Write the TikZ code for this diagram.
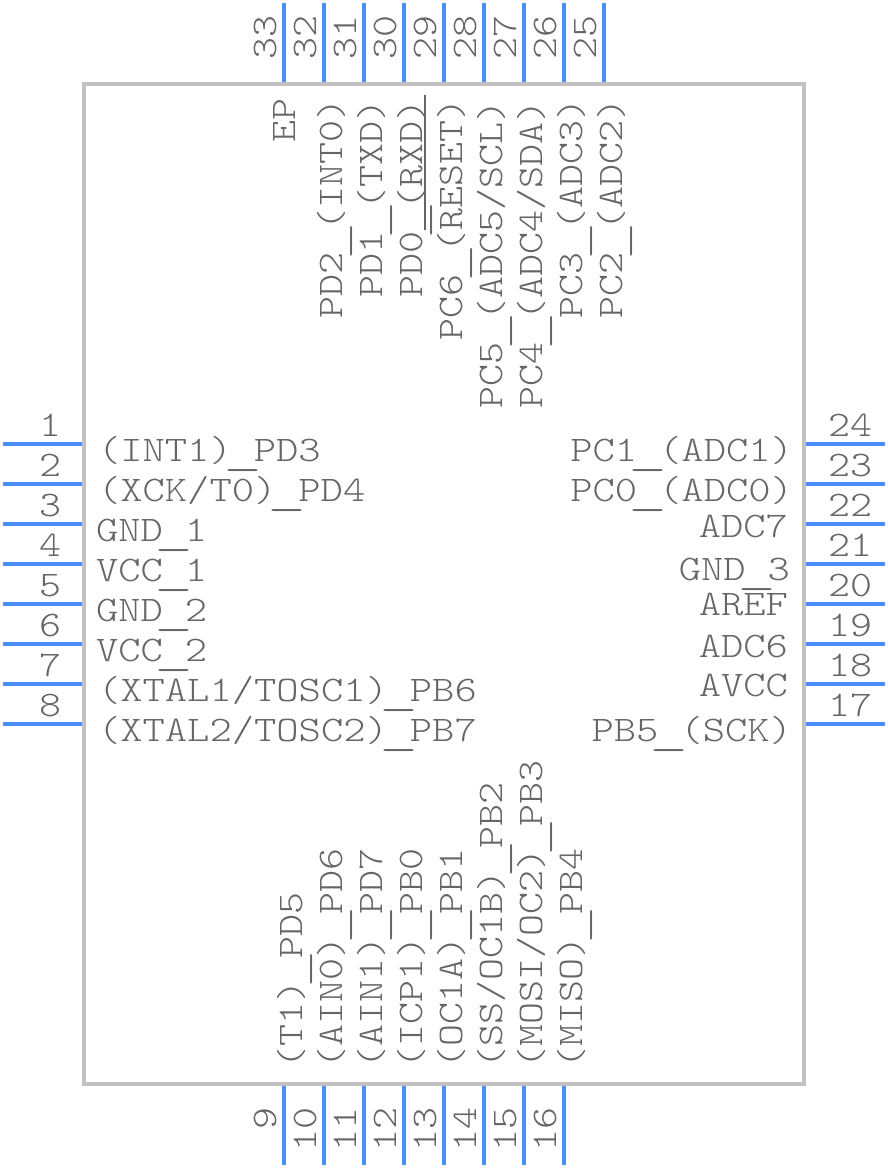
\documentclass[tikz,border=0pt]{standalone}
\usepackage{fontspec}
\usepackage{graphicx}
\newfontfamily\pinfont{Latin Modern Mono Light}[FakeStretch=1.164]
\newfontfamily\pinfontwide{Latin Modern Mono Light}[FakeStretch=1.18]
\definecolor{txtgrey}{HTML}{666666}
\definecolor{boxgrey}{HTML}{C0C0C0}
\definecolor{pinblue}{HTML}{4A90F7}
\newcommand\ovl[1]{\leavevmode\setbox0\hbox{#1}\rlap{\rule[36pt]{\dimexpr\wd0+3pt\relax}{1.6pt}}\box0}
\newcommand\us{\makebox[22pt][c]{\raisebox{-3.8pt}[0pt][0pt]{\scalebox{1.75}[1.1]{\_}}}}
\tikzset{
  lbl/.style={inner sep=0pt, outer sep=0pt, text=txtgrey, font=\pinfont\fontsize{36}{36}\selectfont},
  lh/.style={lbl, font=\pinfontwide\fontsize{36}{36}\selectfont},
  lw/.style={lh, anchor=base west},
  le/.style={lh, anchor=base east},
  lv/.style={lbl, anchor=base west, rotate=90},
  lve/.style={lbl, anchor=base east, rotate=90},
  pinline/.style={draw=pinblue, line width=4pt},
  bodybox/.style={draw=boxgrey, line width=4pt, fill=none, minimum width=720pt, minimum height=1000pt, inner sep=0pt, outer sep=0pt}
}
\begin{document}
\begin{tikzpicture}[x=1pt,y=-1pt]
\useasboundingbox (0,0) rectangle (888,1168);
\node[bodybox] (body) at (444,584) {};
% left and right pins
\foreach \n/\m [count=\i from 0] in {1/24,2/23,3/22,4/21,5/20,6/19,7/18,8/17}{
  \pgfmathsetmacro\yy{444+40*\i}
  \coordinate (p\n a) at (3,\yy);
  \coordinate (p\n b) at (82,\yy);
  \draw[pinline] (p\n a) -- (p\n b);
  \node[lbl, anchor=base] (n\n) at (50,\yy-8) {\n};
  \coordinate (p\m a) at (806,\yy);
  \coordinate (p\m b) at (885,\yy);
  \draw[pinline] (p\m a) -- (p\m b);
  \node[lbl, anchor=base] (n\m) at (850,\yy-8) {\m};
}
% top pins
\foreach \n [count=\i from 0] in {33,32,31,30,29,28,27,26,25}{
  \pgfmathsetmacro\xx{284+40*\i}
  \coordinate (p\n a) at (\xx,3);
  \coordinate (p\n b) at (\xx,82);
  \draw[pinline] (p\n a) -- (p\n b);
  \node[lv] (n\n) at (\xx-8,59) {\n};
}
% bottom pins
\foreach \n [count=\i from 0] in {9,10,11,12,13,14,15,16}{
  \pgfmathsetmacro\xx{284+40*\i}
  \coordinate (p\n a) at (\xx,1086);
  \coordinate (p\n b) at (\xx,1165);
  \draw[pinline] (p\n a) -- (p\n b);
  \node[lve] (n\n) at (\xx-8,1107) {\n};
}
% left labels
\node[lw] (lA) at (98,461) {(INT1)\us PD3};
\node[lw] (lB) at (98,501) {(XCK/T0)\us PD4};
\node[lw] (lC) at (96,541) {GND\us 1};
\node[lw] (lD) at (96,581) {VCC\us 1};
\node[lw] (lE) at (96,621) {GND\us 2};
\node[lw] (lF) at (96,661) {VCC\us 2};
\node[lw] (lG) at (98,701) {(XTAL1/TOSC1)\us PB6};
\node[lw] (lH) at (98,741) {(XTAL2/TOSC2)\us PB7};
% right labels
\node[le] (rA) at (793,461) {PC1\us(ADC1)};
\node[le] (rB) at (793,501) {PC0\us(ADC0)};
\node[le] (rC) at (788,537) {ADC7};
\node[le] (rD) at (790,580) {GND\us 3};
\node[le] (rE) at (788,615) {AREF};
\node[le] (rF) at (788,657) {ADC6};
\node[le] (rG) at (788,696) {AVCC};
\node[le] (rH) at (792,741) {PB5\us(SCK)};
% top labels
\node[lv] (tA) at (295,142) {EP};
\node[lv] (tB) at (342,318) {PD2\us(INT0)};
\node[lv] (tC) at (382,297) {PD1\us(TXD)};
\node[lv] (tD) at (422,297) {PD0\us(RXD)};
\node[lv] (tE) at (462,340) {PC6\us(\ovl{RESET)}};
\node[lv] (tF) at (502,408) {PC5\us(ADC5/SCL)};
\node[lv] (tG) at (542,408) {PC4\us(ADC4/SDA)};
\node[lv] (tH) at (582,318) {PC3\us(ADC3)};
\node[lv] (tI) at (622,318) {PC2\us(ADC2)};
% bottom labels
\node[lv] (bA) at (302,1068) {(T1)\us PD5};
\node[lv] (bB) at (342,1068) {(AIN0)\us PD6};
\node[lv] (bC) at (382,1068) {(AIN1)\us PD7};
\node[lv] (bD) at (422,1068) {(ICP1)\us PB0};
\node[lv] (bE) at (462,1068) {(OC1A)\us PB1};
\node[lv] (bF) at (502,1068) {(SS/OC1B)\us PB2};
\node[lv] (bG) at (542,1068) {(MOSI/OC2)\us PB3};
\node[lv] (bH) at (582,1068) {(MISO)\us PB4};
\end{tikzpicture}
\end{document}
